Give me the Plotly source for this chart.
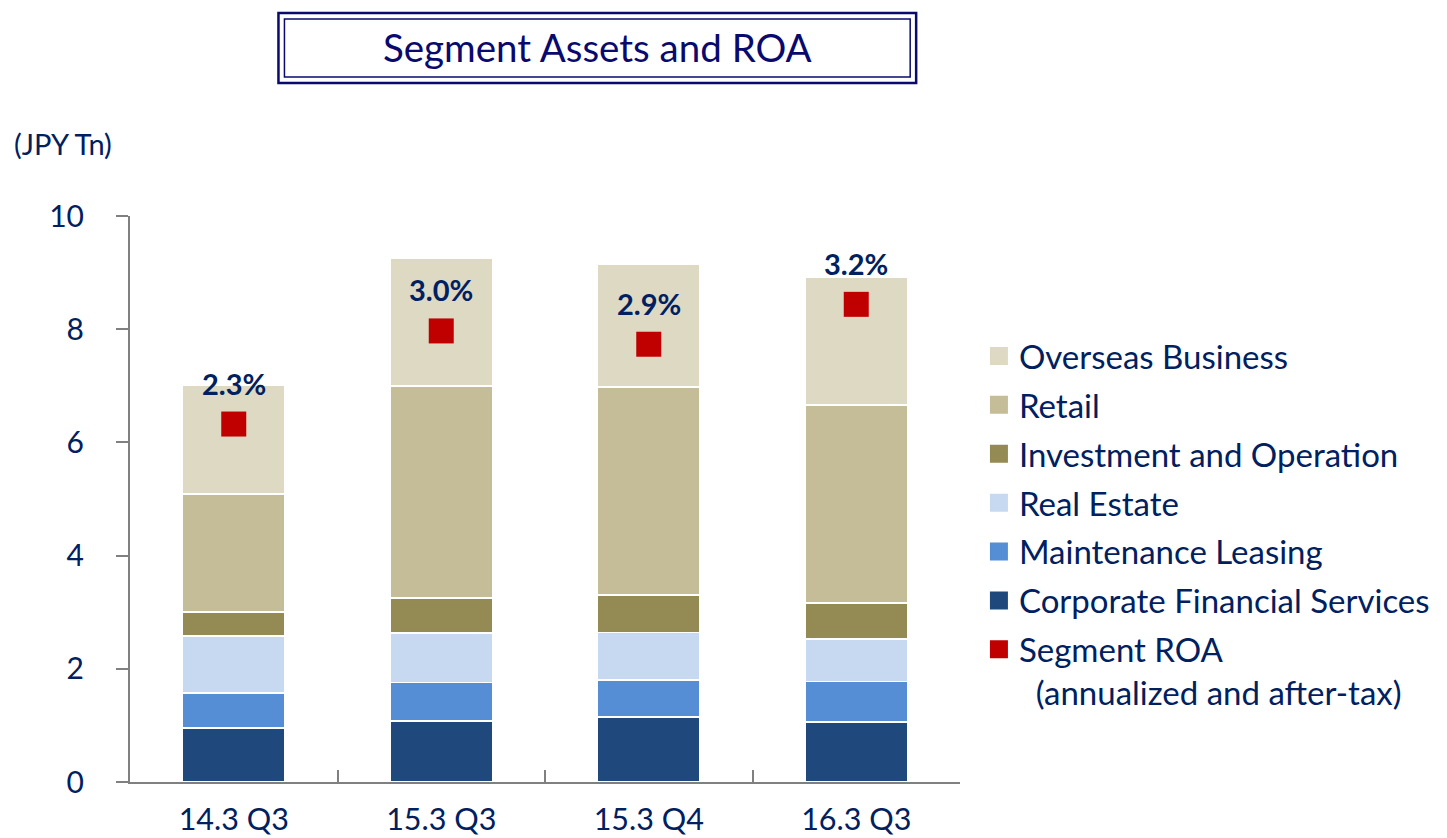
import plotly.graph_objects as go

# ---------------- data ----------------
categories = ["14.3 Q3", "15.3 Q3", "15.3 Q4", "16.3 Q3"]
corporate = [0.95, 1.08, 1.15, 1.06]
maintenance = [0.62, 0.68, 0.65, 0.72]
real_estate = [1.01, 0.87, 0.84, 0.75]
investment = [0.42, 0.62, 0.66, 0.63]
retail = [2.09, 3.75, 3.68, 3.50]
overseas = [1.92, 2.26, 2.17, 2.26]
roa = [2.3, 3.0, 2.9, 3.2]

series_names = ["Corporate Financial Services", "Maintenance Leasing", "Real Estate",
                "Investment and Operation", "Retail", "Overseas Business"]
series_values = [corporate, maintenance, real_estate, investment, retail, overseas]
series_colors = ["#1F497D", "#558ED5", "#C6D9F1", "#948A54", "#C4BD97", "#DDD9C3"]
roa_name = "Segment ROA<br>\u00a0\u00a0(annualized and after-tax)"
roa_color = "#C00000"

TEXT = "#002060"
FONT = "Lato"
W, H = 1447, 838
L, R, T, B = 130, 963, 216, 782


def px(x):
    return (x - L) / (R - L)


def py(y):
    return (B - y) / (B - T)


fig = go.Figure()
for name, vals, col in zip(series_names, series_values, series_colors):
    fig.add_trace(go.Bar(x=categories, y=vals, name=name, marker=dict(color=col, line=dict(color="white", width=1.5)),
                         showlegend=False))

fig.add_trace(go.Scatter(x=categories, y=roa, yaxis="y2", mode="markers", name="Segment ROA",
                         marker=dict(symbol="square", size=25, color=roa_color), showlegend=False))

# legend entries (top to bottom)
for i, (name, col) in enumerate(list(zip(series_names, series_colors))[::-1] + [(roa_name, roa_color)]):
    fig.add_trace(go.Scatter(x=[None], y=[None], mode="markers", name=name, legendgroup=f"g{i}",
                             marker=dict(symbol="square", size=16, color=col, line=dict(color=col, width=2))))

annotations = []
for c, v in zip(categories, roa):
    annotations.append(dict(x=c, y=v, xref="x", yref="y2", yshift=41, text=f"{v:.1f}%", showarrow=False,
                            font=dict(family=FONT, size=29, color=TEXT, weight="bold")))
annotations.append(dict(x=px(12), y=py(143), xref="paper", yref="paper", xanchor="left", yanchor="middle",
                        text="(JPY Tn)", showarrow=False, font=dict(family=FONT, size=29, color=TEXT)))
annotations.append(dict(x=px(599), y=py(47), xref="paper", yref="paper", xanchor="center", yanchor="middle",
                        text="Segment Assets and ROA", showarrow=False, font=dict(family=FONT, size=38.5, color="#0A0A6E")))

shapes = [
    dict(type="rect", xref="paper", yref="paper", x0=px(279), x1=px(919), y0=py(83), y1=py(13),
         line=dict(color="#0A0A6E", width=2.5)),
    dict(type="rect", xref="paper", yref="paper", x0=px(285), x1=px(913), y0=py(77), y1=py(19),
         line=dict(color="#0A0A6E", width=1.5)),
]

fig.update_layout(
    width=W, height=H,
    margin=dict(l=L, r=W - R, t=T, b=H - B, pad=0),
    paper_bgcolor="white", plot_bgcolor="white",
    barmode="stack", bargap=0.505,
    font=dict(family=FONT, color=TEXT),
    xaxis=dict(type="category", showline=True, linecolor="#808080", linewidth=2, ticks="inside",
               tickson="boundaries", ticklen=12, tickwidth=2, tickcolor="#808080", showgrid=False,
               tickfont=dict(family=FONT, size=30.5, color=TEXT), ticklabelstandoff=9, automargin=False),
    yaxis=dict(range=[0, 10], dtick=2, showline=True, linecolor="#808080", linewidth=2, ticks="outside",
               ticklen=12, tickwidth=2, tickcolor="#808080", showgrid=False, zeroline=False,
               tickfont=dict(family=FONT, size=30, color=TEXT), ticklabelstandoff=26, automargin=False),
    yaxis2=dict(range=[-0.391, 3.864], overlaying="y", visible=False, showgrid=False),
    legend=dict(x=px(982), y=py(328), xanchor="left", yanchor="top", traceorder="grouped",
                font=dict(family=FONT, size=33, color=TEXT), tracegroupgap=3, valign="top",
                bgcolor="rgba(0,0,0,0)", itemsizing="trace"),
    annotations=annotations,
    shapes=shapes,
)

fig.write_html("out.html", post_script="document.body.style.margin='0';",
               config={"displayModeBar": False})
